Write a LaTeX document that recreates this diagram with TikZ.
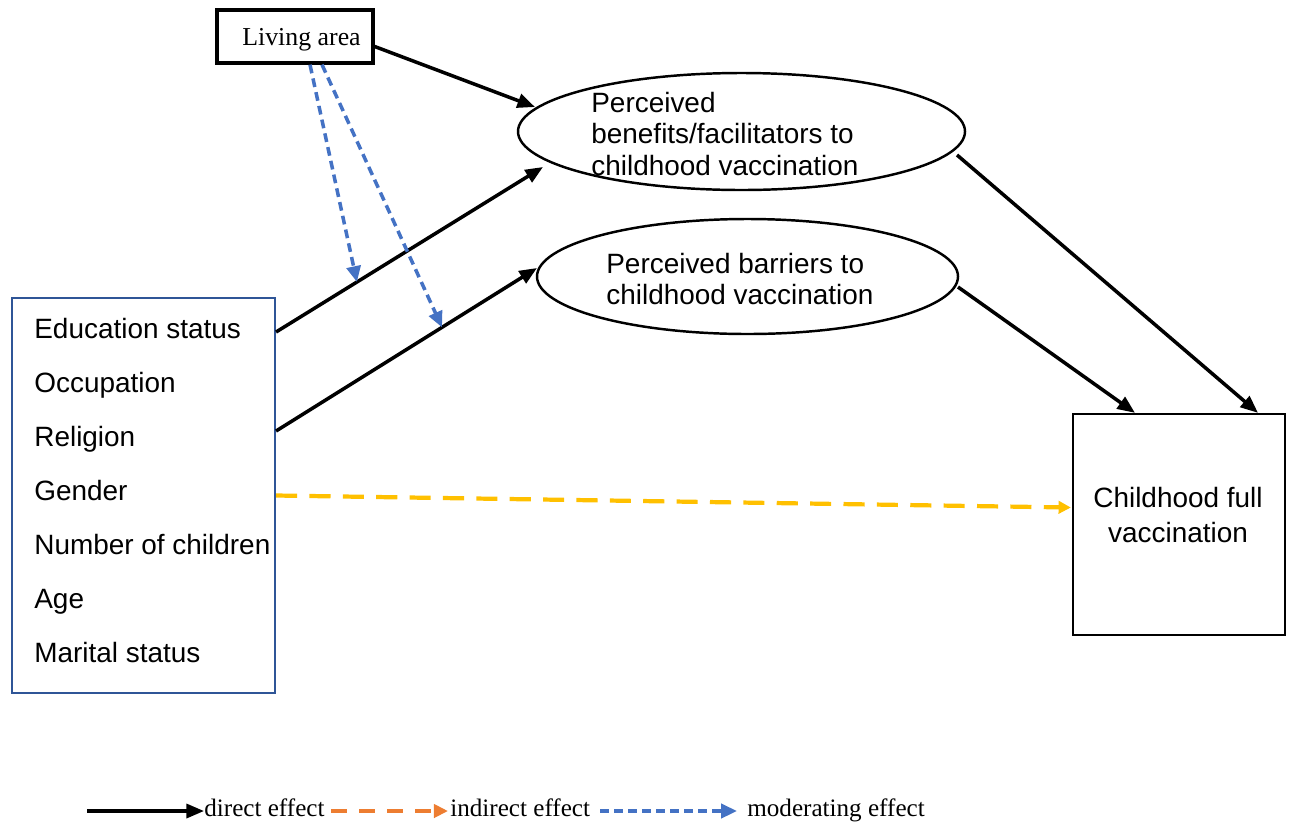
\documentclass[tikz,border=0pt]{standalone}
\usepackage{fontspec}
\setmainfont{Liberation Sans}
\newfontfamily\tnr{Liberation Serif}
\usetikzlibrary{arrows.meta,calc,shapes.geometric}
\definecolor{mblue}{HTML}{4472C4}
\definecolor{bbox}{HTML}{2F5597}
\definecolor{myellow}{HTML}{FFC000}
\definecolor{morange}{HTML}{ED7D31}
\tikzset{
  lbl/.style={font=\fontsize{15.9}{18}\selectfont, inner sep=0pt, anchor=base west},
  lblc/.style={font=\fontsize{15.9}{18}\selectfont, inner sep=0pt, anchor=base},
  leg/.style={font=\tnr\fontsize{14.3}{16}\selectfont, inner sep=0pt, anchor=base west},
  direct/.style={draw=black, line width=2pt, -{Triangle[length=10pt,width=8pt]}},
  moder/.style={draw=mblue, line width=2pt, dash pattern=on 5pt off 3pt, -{Triangle[length=9pt,width=8pt]}},
  indir/.style={draw=myellow, line width=2.4pt, dash pattern=on 12pt off 7pt, -{Triangle[length=7pt,width=7pt]}},
  legind/.style={draw=morange, line width=2pt, dash pattern=on 9pt off 7pt, -{Triangle[length=8pt,width=7.5pt]}},
  ell/.style={draw=black, line width=1.4pt, ellipse, inner sep=0pt, outer sep=0pt},
}
\begin{document}
\begin{tikzpicture}[x=0.02cm,y=-0.02cm]
\useasboundingbox (0,0) rectangle (1290,822);
% Living area
\node[draw=black, line width=1.9pt, minimum width=156*0.02cm, minimum height=53*0.02cm, inner sep=0pt] (living) at (295,36.5) {};
\node[font=\tnr\fontsize{14.7}{17}\selectfont, inner sep=0pt, anchor=base west] (livingt) at (242,45) {Living area};
% ellipses
\node[ell, minimum width=447*0.02cm, minimum height=117*0.02cm] (ell1) at (741.5,131.5) {};
\node[lbl] (e1a) at (591,112) {Perceived};
\node[lbl] (e1b) at (591,143.5) {benefits/facilitators to};
\node[lbl] (e1c) at (591,175) {childhood vaccination};
\node[ell, minimum width=421*0.02cm, minimum height=115*0.02cm] (ell2) at (747.5,276.5) {};
\node[lbl] (e2a) at (606,273) {Perceived barriers to};
\node[lbl] (e2b) at (606,304) {childhood vaccination};
% left box
\node[draw=bbox, line width=1.2pt, minimum width=263*0.02cm, minimum height=395*0.02cm, inner sep=0pt] (left) at (143.5,495.5) {};
\node[lbl] (t1) at (34,338) {Education status};
\node[lbl] (t2) at (34,392) {Occupation};
\node[lbl] (t3) at (34,446) {Religion};
\node[lbl] (t4) at (34,500) {Gender};
\node[lbl] (t5) at (34,554) {Number of children};
\node[lbl] (t6) at (34,608) {Age};
\node[lbl] (t7) at (34,662) {Marital status};
% right box
\node[draw=black, line width=1.3pt, minimum width=212*0.02cm, minimum height=221*0.02cm, inner sep=0pt] (right) at (1179,524.5) {};
\node[lblc] (r1) at (1178,507) {Childhood full};
\node[lblc] (r2) at (1178,542) {vaccination};
% connectors
\draw[direct] ($(living.east)+(0,10)$) -- ($(ell1.center)+(-206.5,-24.5)$);
\draw[direct] ($(left.east)+(0,-163.5)$) -- coordinate[pos=0.303] (m1) ($(ell1.center)+(-198.5,35.5)$);
\draw[direct] ($(left.east)+(0,-64.5)$) -- coordinate[pos=0.636] (m2) ($(ell2.center)+(-210.5,-8.5)$);
\draw[direct] ($(ell1.center)+(215.5,23.5)$) -- ($(right.north)+(79,0)$);
\draw[direct] ($(ell2.center)+(210.5,10.5)$) -- ($(right.north)+(-44,0)$);
\draw[indir] (left.east) -- ($(right.west)+(-1,-17)$);
\draw[moder] ($(living.south)+(15,0)$) -- (m1);
\draw[moder] ($(living.south)+(27,0)$) -- (m2);
% legend
\node[leg] (ld) at (204,816) {direct effect};
\node[leg] (li) at (450,816) {indirect effect};
\node[leg] (lm) at (747,816) {moderating effect};
\coordinate (l0) at (87,811);
\coordinate (l1) at (331,811);
\coordinate (l2) at (600,811);
\draw[direct, line width=1.8pt] (l0) -- (l0 -| ld.west);
\draw[legind] (l1) -- ($(l1 -| li.west)+(-2,0)$);
\draw[moder] (l2) -- ($(l2 -| lm.west)+(-10,0)$);
\end{tikzpicture}
\end{document}
